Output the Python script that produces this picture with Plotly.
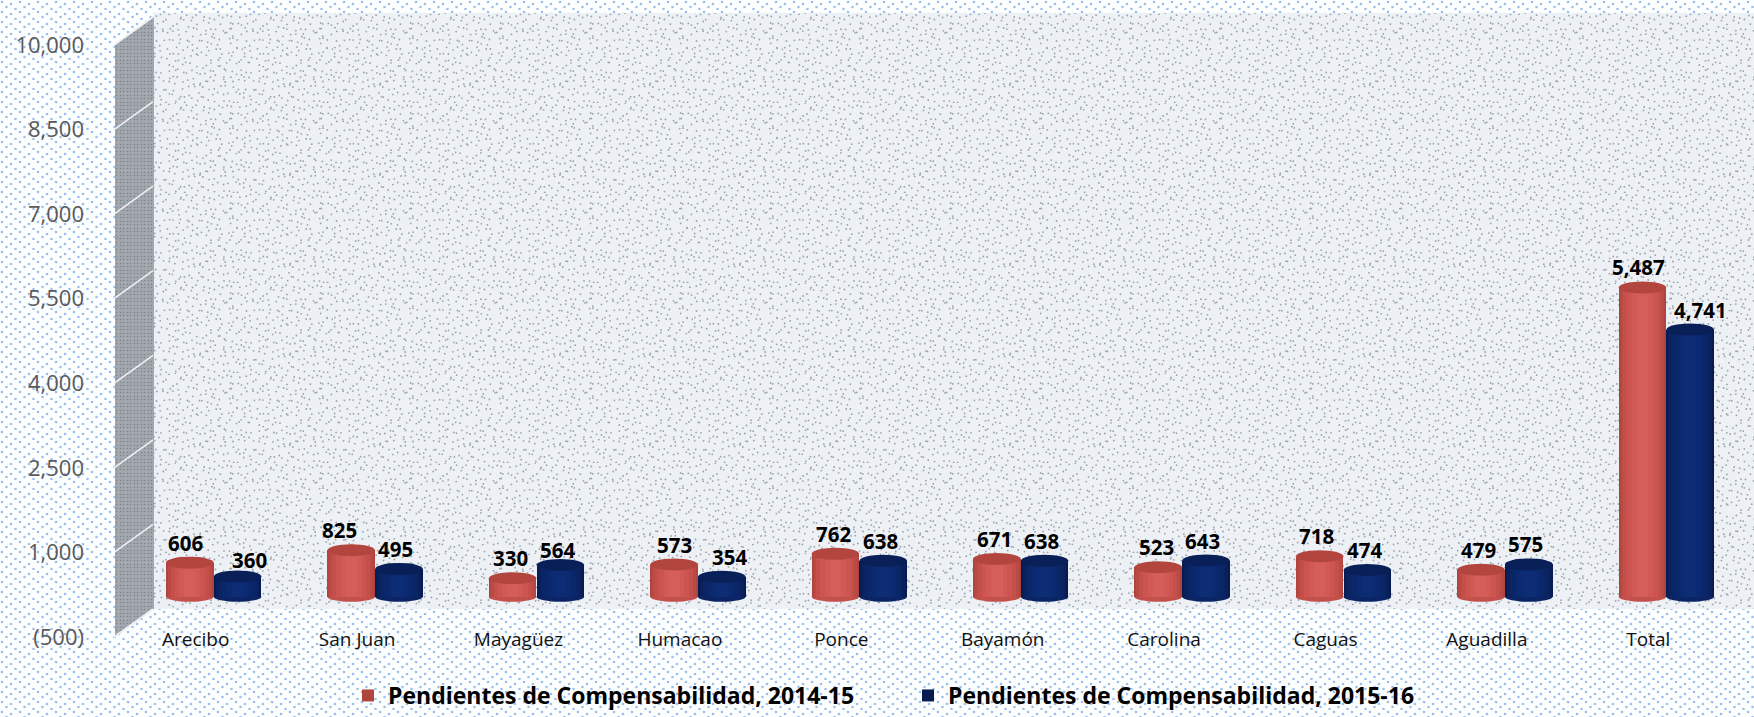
import base64
import math
import plotly.graph_objects as go

categories = ["Arecibo", "San Juan", "Mayagüez", "Humacao", "Ponce", "Bayamón", "Carolina", "Caguas", "Aguadilla", "Total"]
series_2014 = [606, 825, 330, 573, 762, 671, 523, 718, 479, 5487]
series_2015 = [360, 495, 564, 354, 638, 638, 643, 474, 575, 4741]
series_names = ["Pendientes de Compensabilidad, 2014-15", "Pendientes de Compensabilidad, 2015-16"]
y_ticks = [-500, 1000, 2500, 4000, 5500, 7000, 8500, 10000]
y_tick_labels = ["(500)", "1,000", "2,500", "4,000", "5,500", "7,000", "8,500", "10,000"]

# Hand-placed data label nudges (pixels), as in the reference
label_dx = [
    [-4, -12, -2, 0, -2, -2, -2, -3, -3, -4],
    [12, -3, -3, 8, -3, -3, -3, -3, -3, 10],
]
label_dy = [
    [4, 4, 4, 4, 4, 4, 4, 4, 4, 4],
    [1, 4, -1, 4, 4, 4, 4, 4, 4, 4],
]

W, H = 1754, 717
FONT = "Open Sans"
def fx(p): return p / W
def fy(p): return 1 - p / H

# Tiled textures of the slide background and chart walls
def dots_tile(w, h, pts, r, color, bg=None):
    c = "".join(f'<circle cx="{x:.1f}" cy="{y:.1f}" r="{r}"/>' for x, y in pts)
    rect = f'<rect width="{w}" height="{h}" fill="{bg}"/>' if bg else ""
    return rect + f'<g fill="{color}">{c}</g>'

def texture(width, height, tw, th, tile):
    svg = (f'<svg xmlns="http://www.w3.org/2000/svg" width="{width}" height="{height}">'
           f'<defs><pattern id="p" width="{tw}" height="{th}" patternUnits="userSpaceOnUse">{tile}</pattern></defs>'
           f'<rect width="{width}" height="{height}" fill="url(#p)"/></svg>')
    return "data:image/svg+xml;base64," + base64.b64encode(svg.encode()).decode()

def jitter(i, j, a):
    return (math.sin(i * 12.9898 + j * 78.233 + a) * 43758.5453) % 1

bg_pts = [(2, 2), (11, 4), (6.5, 7), (15.5, 9)]
bg_tile = dots_tile(18, 10, bg_pts, 1.3, "#9cbeee", "#fdfefe")
wall_pts = [((i + jitter(i, j, 1)) * 6, (j + jitter(i, j, 2)) * 6) for i in range(15) for j in range(15)]
wall_tile = dots_tile(90, 90, wall_pts, 0.9, "#9aa2ab", "#edf1f6")
side_pts = [(x, y) for y in (1.5, 5.5) for x in (1.5, 5.5)]
side_tile = dots_tile(7, 7, side_pts, 0.8, "#7d838c", "#a3a8ae")

# Geometry of the simulated 3-D box (pixels)
FRONT_L, FRONT_R = 115, 1729
BAR_L, BAR_R = 133, 1747
FRONT_T, FRONT_B = 45, 637
BAR_T, BAR_B = 33, 625
BACK_X, DEPTH = 153, 28
TOP_BACK, BOTTOM_BACK = 13, 609

fig = go.Figure()

ramps = [
    ["#b0443f", "#bb4a45", "#c4504b", "#cc5550", "#d25a55", "#d65e59"],
    ["#071b50", "#08205b", "#0a2464", "#0b276b", "#0c2a71", "#0d2c76"],
]
caps = ["#b3453f", "#081f58"]
centers = [-0.148, 0.148]
full_w = 0.295
fracs = [1.0, 0.92, 0.8, 0.64, 0.44, 0.24]
xs = list(range(len(categories)))

for s, values in enumerate([series_2014, series_2015]):
    for k, (col, frac) in enumerate(zip(ramps[s], fracs)):
        w = full_w * frac
        fig.add_trace(go.Bar(
            x=xs, y=values, xaxis="x2", yaxis="y2",
            width=w, offset=centers[s] - w / 2,
            marker=dict(color=col, line=dict(width=0)),
            name=series_names[s], showlegend=k == 0,
            legendgroup=str(s), hoverinfo="skip" if k else None,
        ))

shapes = []
for v in y_ticks:
    y_front = FRONT_B - (v + 500) * (FRONT_B - FRONT_T) / 10500
    shapes.append(dict(type="line", xref="paper", yref="paper", layer="below",
                       x0=fx(FRONT_L - 1), y0=fy(y_front), x1=fx(BACK_X), y1=fy(y_front - DEPTH),
                       line=dict(color="#eef1f4", width=1.6)))

# Cylinder caps and bases
for s, values in enumerate([series_2014, series_2015]):
    for x, v in zip(xs, values):
        x0 = x + centers[s] - full_w / 2
        x1 = x + centers[s] + full_w / 2
        shapes.append(dict(type="circle", xref="x2", yref="y2", xsizemode="scaled", ysizemode="pixel",
                           yanchor=0, x0=x0, x1=x1, y0=-5, y1=5, layer="below",
                           fillcolor=ramps[s][2], line=dict(width=0)))
        shapes.append(dict(type="circle", xref="x2", yref="y2", xsizemode="scaled", ysizemode="pixel",
                           yanchor=v, x0=x0, x1=x1, y0=-6, y1=6,
                           fillcolor=caps[s], line=dict(width=0)))

annotations = []
for s, values in enumerate([series_2014, series_2015]):
    for i, (x, v) in enumerate(zip(xs, values)):
        annotations.append(dict(
            x=x + centers[s], y=v, xref="x2", yref="y2", text=f"{v:,}", showarrow=False,
            yanchor="bottom", yshift=label_dy[s][i], xshift=label_dx[s][i],
            font=dict(family=FONT, size=20.5, color="#000000", weight="bold"),
        ))

images = [
    dict(source=texture(W, H, 18, 10, bg_tile), xref="paper", yref="paper", x=0, y=1,
         sizex=1, sizey=1, xanchor="left", yanchor="top", layer="below", sizing="stretch"),
    dict(source=texture(W - BACK_X, BOTTOM_BACK - TOP_BACK, 90, 90, wall_tile), xref="paper", yref="paper",
         x=fx(BACK_X), y=fy(TOP_BACK), sizex=(W - BACK_X) / W, sizey=(BOTTOM_BACK - TOP_BACK) / H,
         xanchor="left", yanchor="top", layer="below", sizing="stretch"),
]
# Side wall: parallelogram clipped inside an SVG image
side_w = BACK_X - FRONT_L + 1
side_h = FRONT_B - TOP_BACK
side_svg = (f'<svg xmlns="http://www.w3.org/2000/svg" width="{side_w}" height="{side_h}">'
            f'<defs><pattern id="p" width="7" height="7" patternUnits="userSpaceOnUse">{side_tile}</pattern></defs>'
            f'<polygon points="0,{FRONT_T - TOP_BACK} {side_w},4 {side_w},{BOTTOM_BACK - TOP_BACK} 0,{side_h}" fill="url(#p)"/></svg>')
images.append(dict(source="data:image/svg+xml;base64," + base64.b64encode(side_svg.encode()).decode(),
                   xref="paper", yref="paper", x=fx(FRONT_L), y=fy(TOP_BACK),
                   sizex=side_w / W, sizey=side_h / H,
                   xanchor="left", yanchor="top", layer="below", sizing="stretch"))

fig.update_layout(
    width=W, height=H, margin=dict(l=0, r=0, t=0, b=0, pad=0, autoexpand=False), autosize=False,
    paper_bgcolor="rgba(0,0,0,0)", plot_bgcolor="rgba(0,0,0,0)",
    barmode="overlay", bargap=0,
    font=dict(family=FONT),
    xaxis=dict(domain=[fx(FRONT_L), fx(FRONT_R)], range=[-0.5, 9.5], tickmode="array", tickvals=xs,
               ticktext=categories, tickfont=dict(family=FONT, size=19, color="#111111"),
               showgrid=False, zeroline=False, showline=False, ticks="",
               anchor="free", position=fy(626)),
    yaxis=dict(domain=[fy(FRONT_B), fy(FRONT_T)], range=[-500, 10000], tickmode="array", tickvals=y_ticks,
               ticktext=y_tick_labels, tickfont=dict(family=FONT, size=22, color="#595959"),
               showgrid=False, zeroline=False, showline=False, ticks="", ticklabelstandoff=30),
    xaxis2=dict(domain=[fx(BAR_L), fx(BAR_R)], range=[-0.5, 9.5], anchor="y2", visible=False),
    yaxis2=dict(domain=[fy(BAR_B), fy(BAR_T)], range=[-500, 10000], anchor="x2", visible=False),
    legend=dict(orientation="h", x=fx(348), xanchor="left", y=0, yanchor="bottom",
                font=dict(family=FONT, size=23, color="#000000", weight="bold"),
                bgcolor="rgba(0,0,0,0)", entrywidth=515, entrywidthmode="pixels",
                itemwidth=30, itemclick=False, itemdoubleclick=False, traceorder="normal"),
    shapes=shapes, annotations=annotations, images=images,
    showlegend=True,
)
# Empty trace so the front (labelled) axes render
fig.add_trace(go.Scatter(x=xs, y=[None] * len(xs), xaxis="x", yaxis="y", showlegend=False, hoverinfo="skip"))

fig.write_html("out.html", post_script="document.body.style.margin='0';", config={"displayModeBar": False})
